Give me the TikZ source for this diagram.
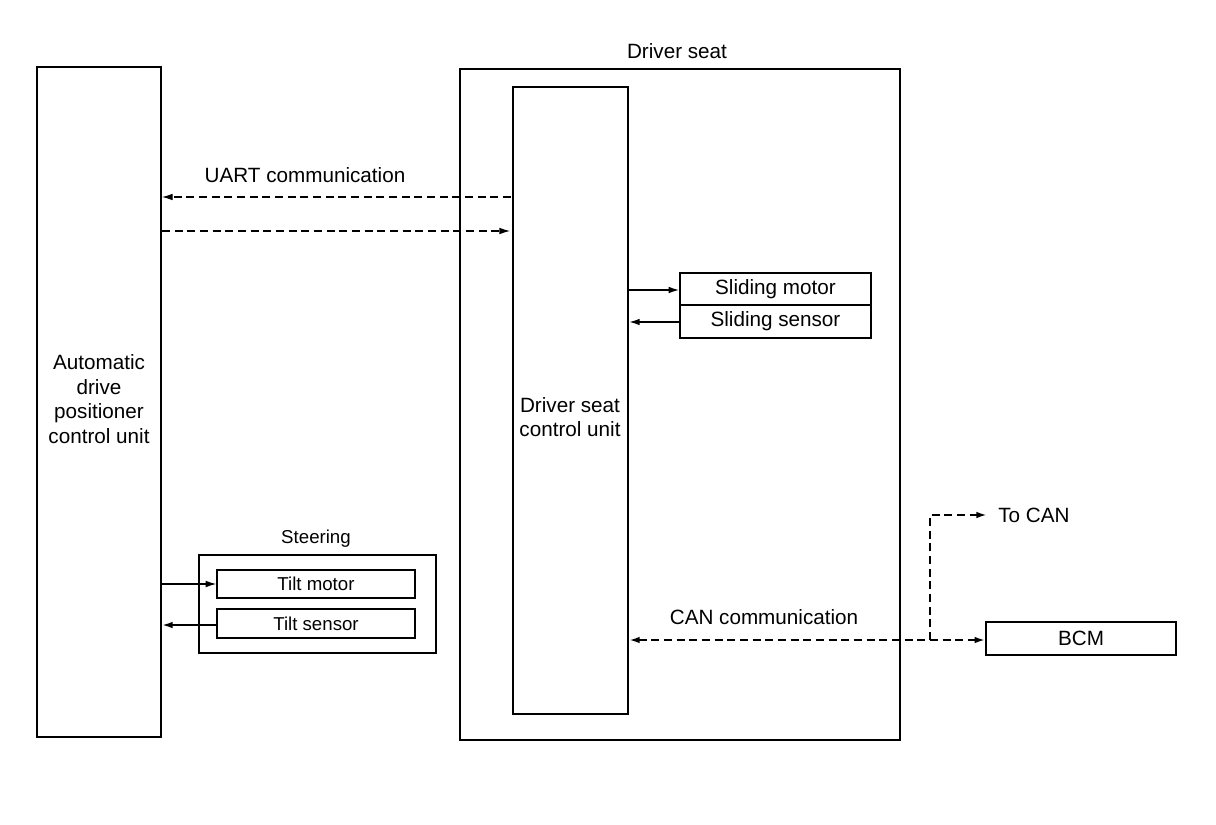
\documentclass[tikz,border=0pt]{standalone}
\usepackage{fontspec}
\setmainfont{Liberation Sans}
\usetikzlibrary{arrows.meta}
\begin{document}
\begin{tikzpicture}[x=0.75pt,y=-0.75pt,
  thinln/.style={line width=0.8pt},
  boxln/.style={draw,line width=1.5pt},
  tip/.style={-{Latex[length=8pt,width=5pt]}},
  bitip/.style={{Latex[length=8pt,width=5pt]}-{Latex[length=8pt,width=5pt]}},
  dsh/.style={dash pattern=on 6pt off 3.5pt},
  lbl/.style={font=\fontsize{15.5}{18.5}\selectfont},
  slbl/.style={font=\fontsize{14}{17}\selectfont},
  every node/.style={inner sep=0pt}]
\useasboundingbox (0,0) rectangle (1216,824);
% main boxes
\draw[boxln] (37,67) rectangle (161,737);
\node[lbl,align=center] (adp) at (99,399) {Automatic\\drive\\positioner\\control unit};
\draw[thinln] (460,69) rectangle (900,740);
\node[lbl] (dslbl) at (677,51) {Driver seat};
\draw[boxln] (513,87) rectangle (628,714);
\node[lbl,align=center] (dscu) at (570,417) {Driver seat\\control unit};
% UART
\node[lbl] (uart) at (305,175) {UART communication};
\coordinate (u1a) at (511,197); \coordinate (u1b) at (162,197);
\coordinate (u2a) at (162,231); \coordinate (u2b) at (510,231);
\draw[thinln,dsh,tip] (u1a) -- (u1b);
\draw[thinln,dsh,tip] (u2a) -- (u2b);
% sliding
\node[draw,line width=1pt,minimum width=191*0.75pt,minimum height=32*0.75pt,lbl] (sm) at (775.5,289) {Sliding motor};
\node[draw,line width=1pt,minimum width=191*0.75pt,minimum height=33*0.75pt,lbl] (ss) at (775.5,321.5) {Sliding sensor};
\coordinate (sm0) at (628,290);
\coordinate (ss0) at (629,322);
\draw[line width=1.2pt,tip] (sm0) -- (sm.west|-sm0);
\draw[line width=1.2pt,tip] (ss.west|-ss0) -- (ss0);
% steering
\node[draw,thinln,minimum width=237*0.75pt,minimum height=98*0.75pt] (st) at (317.5,604) {};
\node[slbl] (stl) at (316,539) {Steering};
\node[draw,line width=1pt,minimum width=198*0.75pt,minimum height=28*0.75pt,slbl] (tm) at (316,584) {Tilt motor};
\node[draw,line width=1pt,minimum width=198*0.75pt,minimum height=29*0.75pt,slbl] (ts) at (316,623.5) {Tilt sensor};
\coordinate (tm0) at (161,584);
\coordinate (ts0) at (162,625);
\draw[thinln,tip] (tm0) -- (tm.west|-tm0);
\draw[line width=1.4pt,tip] (ts.west|-ts0) -- (ts0);
% CAN
\node[draw,line width=1.2pt,minimum width=190*0.75pt,minimum height=33*0.75pt,lbl] (bcm) at (1081,638.5) {BCM};
\node[lbl] (can) at (764,617) {CAN communication};
\node[lbl,anchor=west] (tocan) at (998,515) {To CAN};
\coordinate (c0) at (629,640);
\coordinate (cj) at (930,640);
\coordinate (ct) at (930,515);
\coordinate (ce) at (987,515);
\draw[line width=2.2pt,dsh,bitip] (c0) -- (bcm.west|-c0);
\draw[line width=2.2pt,dsh,tip] (cj) -- (ct) -- (ce);
\end{tikzpicture}
\end{document}
